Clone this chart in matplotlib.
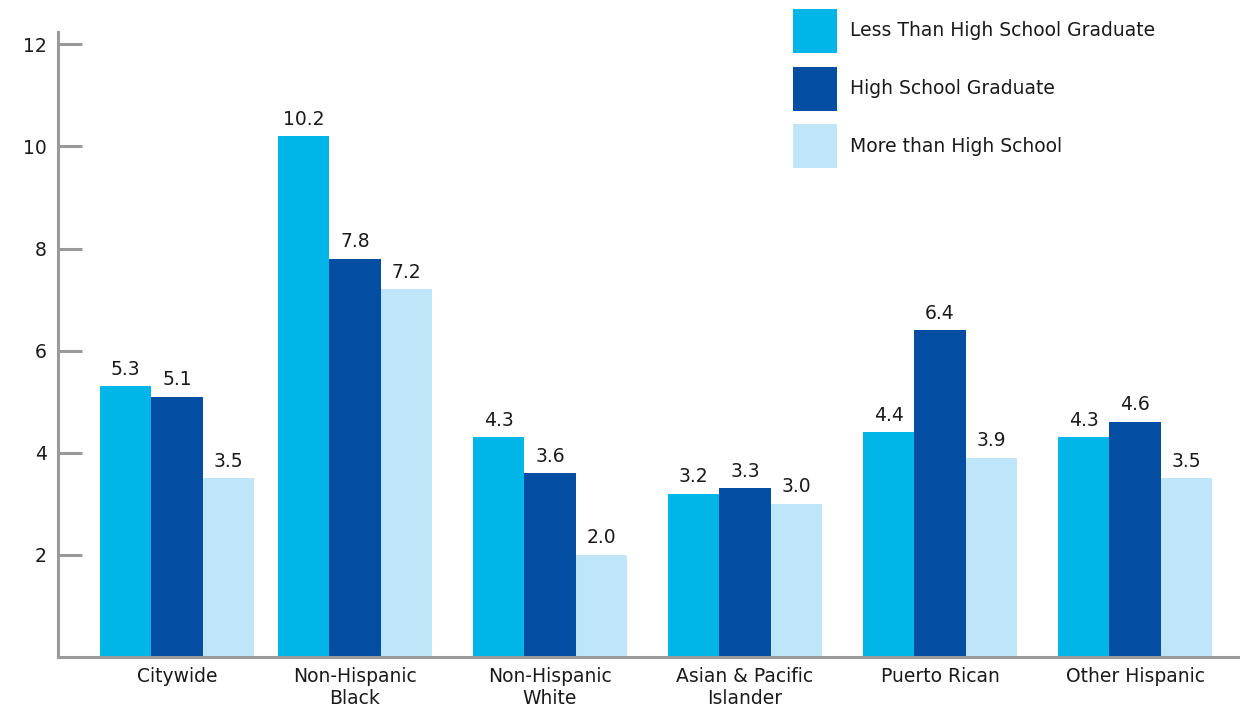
import matplotlib.pyplot as plt
from matplotlib.patches import Rectangle
import numpy as np

plt.rcParams['font.family'] = ['DejaVu Sans']

groups = ['Citywide', 'Non-Hispanic\nBlack', 'Non-Hispanic\nWhite',
          'Asian & Pacific\nIslander', 'Puerto Rican', 'Other Hispanic']
series = ['Less Than High School Graduate', 'High School Graduate',
          'More than High School']
less_hs = [5.3, 10.2, 4.3, 3.2, 4.4, 4.3]
hs_grad = [5.1, 7.8, 3.6, 3.3, 6.4, 4.6]
more_hs = [3.5, 7.2, 2.0, 3.0, 3.9, 3.5]
colors = ['#00B5E8', '#034EA2', '#BEE6F8']
yticks = [2, 4, 6, 8, 10, 12]

W, H = 1248, 708
fig = plt.figure(figsize=(W / 100, H / 100), dpi=100)
ax = fig.add_axes([58 / W, 51 / H, 1180 / W, 625 / H])

fs = 13.5
txt = '#1a1a1a'
grey = '#9A9A9C'

# Citywide sits a little closer to the rest
centers = np.array([0.087, 1, 2, 3, 4, 5])
w = 0.264

for k, (vals, c) in enumerate(zip([less_hs, hs_grad, more_hs], colors)):
    xs = centers + (k - 1) * w
    ax.bar(xs, vals, width=w, color=c)
    for x, v in zip(xs, vals):
        ax.annotate(f'{v:.1f}', (x, v), xytext=(0, 5.5), textcoords='offset points',
                    ha='center', va='bottom', fontsize=fs, color=txt)

ax.set_xlim(-0.523, 5.528)
ax.set_ylim(0, 12.24)
ax.set_yticks(yticks)
ax.set_yticklabels([str(t) for t in yticks], fontsize=fs, color=txt)
ax.set_xticks(centers)
ax.set_xticklabels(groups, fontsize=fs, color=txt, linespacing=1.2)
ax.tick_params(axis='y', direction='in', length=17, width=2.2, color=grey, pad=8)
ax.tick_params(axis='x', length=0, pad=7)

for s in ['top', 'right']:
    ax.spines[s].set_visible(False)
for s in ['left', 'bottom']:
    ax.spines[s].set_color(grey)
    ax.spines[s].set_linewidth(2.2)

# legend drawn by hand: squares with labels to the right
for i, (name, c) in enumerate(zip(series, colors)):
    top = 9 + i * 57.5
    fig.patches.append(Rectangle((793 / W, 1 - (top + 44) / H), 44 / W, 44 / H,
                                 transform=fig.transFigure, facecolor=c,
                                 edgecolor='none'))
    fig.text(850 / W, 1 - (top + 22) / H, name, fontsize=fs, color=txt,
             va='center', ha='left')

fig.savefig('out.png', dpi=100)
